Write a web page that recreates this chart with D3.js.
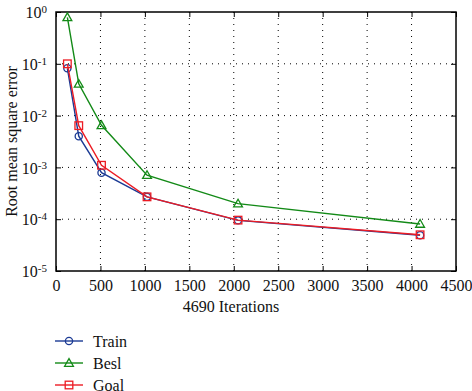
<!DOCTYPE html>
<html>
<head>
<meta charset="utf-8">
<script src="https://cdn.jsdelivr.net/npm/d3@7"></script>
<style>
  body { margin: 0; background: #fff; }
</style>
</head>
<body>
<div class="chart"></div>
<script>
// values
var iterations = [128, 256, 512, 1024, 2048, 4096];
var train = [0.082, 0.0040, 0.00079, 0.00027, 0.000095, 0.000049];
var besl  = [0.79, 0.041, 0.0065, 0.00071, 0.00020, 0.000081];
var goal  = [0.10, 0.0064, 0.0011, 0.00027, 0.000096, 0.000050];
var xTicks = [0, 500, 1000, 1500, 2000, 2500, 3000, 3500, 4000, 4500];
var yTicks = [1e-5, 1e-4, 1e-3, 1e-2, 1e-1, 1];
var seriesNames = ["Train", "Besl", "Goal"];

var series = [
  {name: seriesNames[0], values: train, color: "#1b3a94", marker: "circle"},
  {name: seriesNames[1], values: besl,  color: "#138a17", marker: "triangle"},
  {name: seriesNames[2], values: goal,  color: "#ec1c24", marker: "square"}
];

var FONT = "'Liberation Serif', 'DejaVu Serif', serif";
var W = 472, H = 391;
var margin = {top: 12, right: 16, bottom: 120, left: 56},
    width = W - margin.left - margin.right,
    height = H - margin.top - margin.bottom;

var svg = d3.select("div.chart").append("svg")
    .attr("width", W).attr("height", H)
    .style("font-family", FONT);
var g = svg.append("g")
    .attr("transform", "translate(" + margin.left + "," + margin.top + ")");

var x = d3.scaleLinear().domain([0, 4500]).range([0, width]);
var y = d3.scaleLog().domain([1e-5, 1]).range([height, 0]);

// dotted grid
g.selectAll("line.gx").data(xTicks.slice(1, -1)).enter().append("line")
    .attr("x1", function(d) { return x(d); }).attr("x2", function(d) { return x(d); })
    .attr("y1", 0).attr("y2", height)
    .attr("stroke", "#000").attr("stroke-width", 1)
    .attr("stroke-dasharray", "1,5");
g.selectAll("line.gy").data(yTicks.slice(1, -1)).enter().append("line")
    .attr("y1", function(d) { return y(d); }).attr("y2", function(d) { return y(d); })
    .attr("x1", 0).attr("x2", width)
    .attr("stroke", "#000").attr("stroke-width", 1)
    .attr("stroke-dasharray", "1,5");

// axes with inward ticks
var xAxis = g.append("g")
    .attr("transform", "translate(0," + height + ")")
    .call(d3.axisBottom(x).tickValues(xTicks).tickSizeInner(-5).tickSizeOuter(0).tickPadding(9)
      .tickFormat(d3.format("d")));
xAxis.selectAll("text").attr("font-family", FONT).style("font-size", "16px").attr("fill", "#111");
g.append("g")
    .call(d3.axisTop(x).tickValues(xTicks).tickSizeInner(-5).tickSizeOuter(0).tickFormat(""));

var yAxis = g.append("g")
    .call(d3.axisLeft(y).tickValues(yTicks).tickSizeInner(-5).tickSizeOuter(0).tickFormat(""));
yAxis.selectAll(".tick").append("text")
    .attr("x", -9).attr("dy", "0.35em")
    .attr("text-anchor", "end")
    .attr("font-family", FONT)
    .attr("fill", "#111")
    .style("font-size", "16px")
    .each(function(d) {
      var t = d3.select(this);
      var e = Math.round(Math.log10(d));
      t.append("tspan").text("10");
      t.append("tspan").attr("dy", "-0.45em").style("font-size", "11px")
        .text(e === 0 ? "0" : "-" + Math.abs(e));
    });
g.append("g")
    .attr("transform", "translate(" + width + ",0)")
    .call(d3.axisRight(y).tickValues(yTicks).tickSizeInner(-5).tickSizeOuter(0).tickFormat(""));

g.selectAll(".domain").remove();
g.selectAll(".tick line").attr("stroke", "#000");
g.append("rect")
    .attr("width", width).attr("height", height)
    .attr("fill", "none").attr("stroke", "#000").attr("stroke-width", 1.5);

// lines
var line = d3.line()
    .x(function(d, i) { return x(iterations[i]); })
    .y(function(d) { return y(d); });

function drawMarker(sel, type, color, cx, cy) {
  if (type === "circle") {
    sel.append("circle").attr("cx", cx).attr("cy", cy).attr("r", 3.6)
      .attr("fill", "none").attr("stroke", color).attr("stroke-width", 1.3);
  } else if (type === "triangle") {
    var s = 4.4;
    sel.append("path")
      .attr("d", "M" + cx + "," + (cy - s) + "L" + (cx + s) + "," + (cy + s * 0.75) + "L" + (cx - s) + "," + (cy + s * 0.75) + "Z")
      .attr("fill", "none").attr("stroke", color).attr("stroke-width", 1.3);
  } else {
    sel.append("rect").attr("x", cx - 3.8).attr("y", cy - 3.8).attr("width", 7.6).attr("height", 7.6)
      .attr("fill", "none").attr("stroke", color).attr("stroke-width", 1.3);
  }
}

series.forEach(function(s) {
  g.append("path").datum(s.values)
    .attr("fill", "none").attr("stroke", s.color).attr("stroke-width", 1.4)
    .attr("d", line);
  s.values.forEach(function(v, i) {
    drawMarker(g, s.marker, s.color, x(iterations[i]), y(v));
  });
});

// axis titles
svg.append("text")
    .attr("x", margin.left + width / 2 - 25).attr("y", 312)
    .attr("text-anchor", "middle").attr("fill", "#111").style("font-size", "16px")
    .text("4690 Iterations");
svg.append("text")
    .attr("transform", "translate(17," + (margin.top + height / 2) + ") rotate(-90)")
    .attr("text-anchor", "middle").attr("fill", "#111").style("font-size", "16px")
    .text("Root mean square error");

// legend
var legend = svg.append("g");
series.forEach(function(s, i) {
  var ly = 341 + i * 22;
  legend.append("line").attr("x1", 55).attr("x2", 83).attr("y1", ly).attr("y2", ly)
    .attr("stroke", s.color).attr("stroke-width", 1.4);
  drawMarker(legend, s.marker, s.color, 69, ly);
  legend.append("text").attr("x", 93).attr("y", ly).attr("dy", "0.35em")
    .attr("fill", "#111").style("font-size", "16px").text(s.name);
});
</script>
</body>
</html>
